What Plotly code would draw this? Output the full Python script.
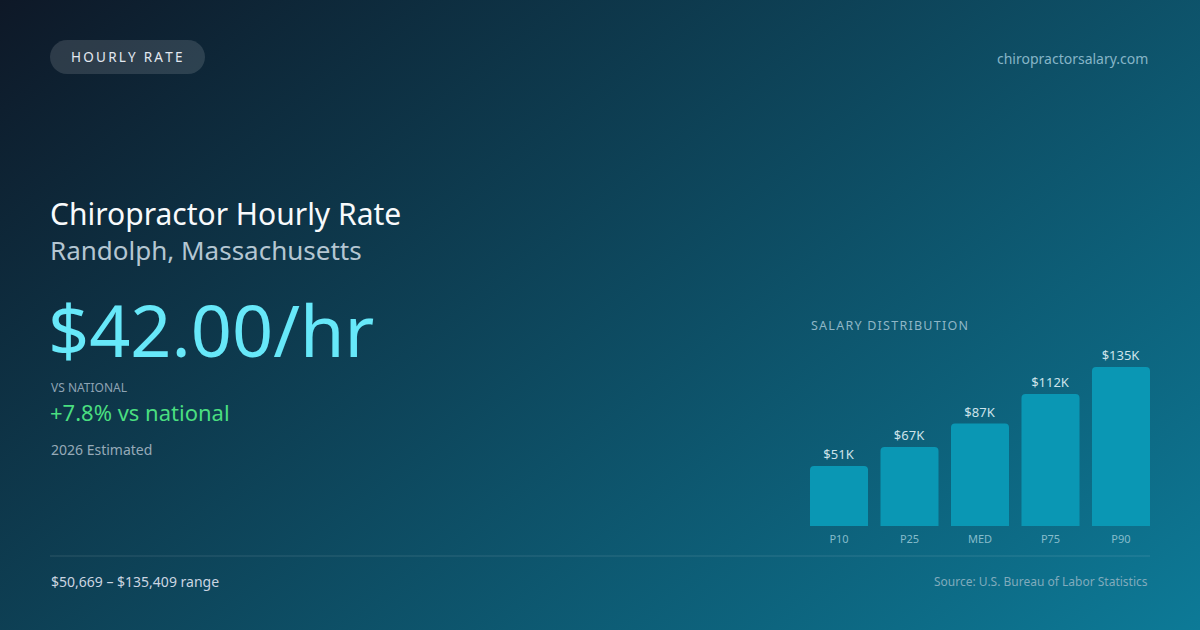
import plotly.graph_objects as go

# salary percentiles (thousands of USD)
percentiles = ["P10", "P25", "MED", "P75", "P90"]
salary_k = [51, 67, 87, 112, 135]

hourly_rate = "$42.00/hr"
vs_national = "+7.8% vs national"
range_text = "$50,669 – $135,409 range"

W, H = 1200, 630
BAR_W = 0.823  # bar width in category units


def px(x):
    return x / W


def py(y):
    return 1 - y / H


def spaced(s, sep="\u200a"):
    return sep.join(s)


# diagonal background gradient as an inline svg
bg_svg = (
    "data:image/svg+xml;utf8,"
    "<svg xmlns='http://www.w3.org/2000/svg' width='1200' height='630'>"
    "<defs><linearGradient id='g' gradientUnits='userSpaceOnUse' x1='0' y1='0' x2='765' y2='972'>"
    "<stop offset='0' stop-color='%230e1827'/>"
    "<stop offset='1' stop-color='%230d7a97'/>"
    "</linearGradient></defs>"
    "<rect width='1200' height='630' fill='url(%23g)'/></svg>"
)

fig = go.Figure()

fig.add_trace(go.Bar(
    x=percentiles,
    y=salary_k,
    width=BAR_W,
    marker=dict(color="#0a97b4", cornerradius=4, line=dict(width=0)),
    texttemplate="$%{y}K",
    textposition="outside",
    textfont=dict(family="Noto Sans", size=13, color="#cde3ea"),
    cliponaxis=False,
    hoverinfo="skip",
))

fig.update_xaxes(
    domain=[px(810), px(1150)],
    range=[-BAR_W / 2, len(percentiles) - 1 + BAR_W / 2],
    showgrid=False, zeroline=False, showline=False, ticks="",
    tickfont=dict(family="Noto Sans", size=11, color="#86bccb"),
    ticklabelstandoff=5,
    fixedrange=True,
)
fig.update_yaxes(
    domain=[py(526), py(367)],
    range=[0, 135],
    visible=False, fixedrange=True,
)

# pill behind the tag text
x0, x1, y0, y1, r = 50, 205, 40, 74, 17
k = 0.5523 * r
pill = (
    f"M {px(x0 + r)} {py(y0)} L {px(x1 - r)} {py(y0)} "
    f"C {px(x1 - r + k)} {py(y0)} {px(x1)} {py(y0 + r - k)} {px(x1)} {py(y0 + r)} "
    f"C {px(x1)} {py(y1 - r + k)} {px(x1 - r + k)} {py(y1)} {px(x1 - r)} {py(y1)} "
    f"L {px(x0 + r)} {py(y1)} "
    f"C {px(x0 + r - k)} {py(y1)} {px(x0)} {py(y1 - r + k)} {px(x0)} {py(y1 - r)} "
    f"C {px(x0)} {py(y0 + r - k)} {px(x0 + r - k)} {py(y0)} {px(x0 + r)} {py(y0)} Z"
)
fig.add_shape(type="path", path=pill, xref="paper", yref="paper",
              fillcolor="rgba(255,255,255,0.13)", line=dict(width=0), layer="below")

# footer separator
fig.add_shape(type="line", xref="paper", yref="paper",
              x0=px(50), x1=px(1150), y0=py(556), y1=py(556),
              line=dict(color="rgba(255,255,255,0.13)", width=1))

texts = [
    # text, x, y, size, color, anchor
    (spaced("HOURLY RATE", "\u2009"), 126, 57, 13.5, "#e2e8f0", "center"),
    ("chiropractorsalary.com", 1150, 58, 14, "#86b5c7", "right"),
    ("Chiropractor Hourly Rate", 48, 213, 30, "#f8fafc", "left"),
    ("Randolph, Massachusetts", 48, 250, 26, "#b4c6d2", "left"),
    (hourly_rate, 46, 329, 72, "#67e8f9", "left"),
    ("VS NATIONAL", 49, 387, 12, "#8ea3b4", "left"),
    (vs_national, 48, 412, 22, "#4ade80", "left"),
    ("2026 Estimated", 49, 449, 14, "#96aab8", "left"),
    (spaced("SALARY DISTRIBUTION", "\u200a"), 809, 325, 12.5, "#8fb6c6", "left"),
    (range_text, 49, 581, 14, "#cbd5e1", "left"),
    ("Source: U.S. Bureau of Labor Statistics", 1150, 581, 12, "#80abbc", "right"),
]
for t, x, y, size, color, anchor in texts:
    fig.add_annotation(
        text=t, x=px(x), y=py(y), xref="paper", yref="paper",
        xanchor=anchor, yanchor="middle", showarrow=False,
        font=dict(family="Noto Sans", size=size, color=color),
    )

fig.add_layout_image(
    source=bg_svg, xref="paper", yref="paper", x=0, y=1,
    sizex=1, sizey=1, sizing="stretch", layer="below",
)

fig.update_layout(
    width=W, height=H,
    margin=dict(l=0, r=0, t=0, b=0),
    paper_bgcolor="#0f4a60",
    plot_bgcolor="rgba(0,0,0,0)",
    showlegend=False,
    font=dict(family="Noto Sans"),
)

fig.write_html(
    "out.html",
    config={"displayModeBar": False},
    post_script="document.body.style.margin='0';document.body.style.overflow='hidden';",
)
